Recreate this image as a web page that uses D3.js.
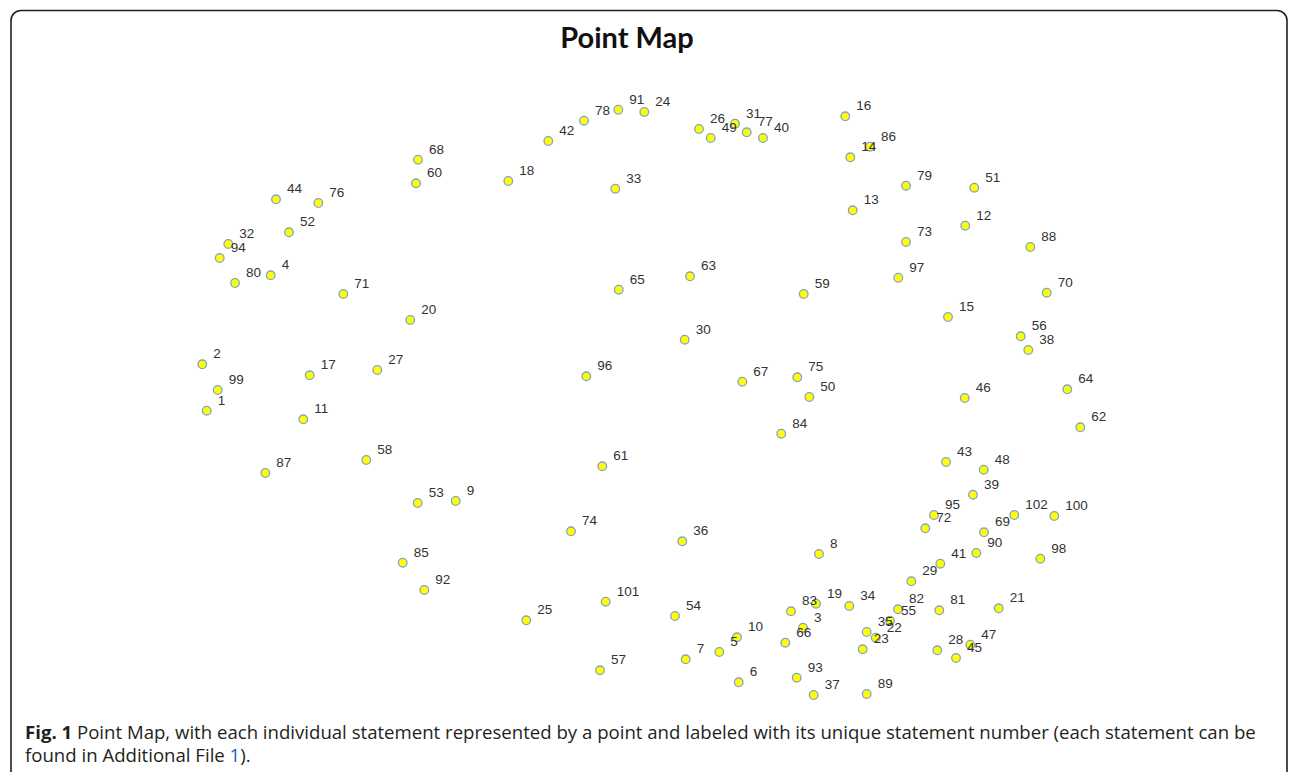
<!DOCTYPE html>
<html>
<head>
<meta charset="utf-8">
<script src="https://cdn.jsdelivr.net/npm/d3@7"></script>
<style>
  body { margin: 0; background: #fff; }
  svg { display: block; }
</style>
</head>
<body>
<div id="chart"></div>
<script>
// statement numbers, and their positions on the point map
const ids = [1, 2, 3, 4, 5, 6, 7, 8, 9, 10, 11, 12, 13, 14, 15, 16, 17, 18, 19, 20,
  21, 22, 23, 24, 25, 26, 27, 28, 29, 30, 31, 32, 33, 34, 35, 36, 37, 38, 39, 40,
  41, 42, 43, 44, 45, 46, 47, 48, 49, 50, 51, 52, 53, 54, 55, 56, 57, 58, 59, 60,
  61, 62, 63, 64, 65, 66, 67, 68, 69, 70, 71, 72, 73, 74, 75, 76, 77, 78, 79, 80,
  81, 82, 83, 84, 85, 86, 87, 88, 89, 90, 91, 92, 93, 94, 95, 96, 97, 98, 99, 100,
  101, 102];

const xs = [206.7, 202.3, 803, 270.7, 719.3, 738.7, 685.7, 819, 455.7, 737,
  303.3, 965.3, 852.7, 850.3, 948, 845.3, 309.7, 508.3, 816, 410.3,
  998.7, 875.7, 862.7, 644.3, 526.3, 699, 377.3, 937.3, 911.3, 684.7,
  735, 228.3, 615.3, 849.3, 866.7, 682.3, 813.7, 1028.3, 973, 763,
  940.3, 548.3, 946, 276, 956, 964.7, 970.3, 983.7, 710.7, 809.3,
  974.3, 289, 417.7, 675, 890, 1020.7, 600, 366.3, 803.7, 416,
  602.3, 1080.3, 690, 1067.3, 618.7, 785.3, 742.3, 418, 984, 1046.7,
  343.3, 925.3, 906, 571, 797.3, 318.3, 746.7, 584, 906, 235,
  939.3, 898, 791, 781.3, 402.7, 870, 265.3, 1030.3, 866.7, 976.3,
  618.3, 424.3, 796.7, 219.7, 934, 586.3, 898.3, 1040.3, 217.7, 1054.3,
  605.7, 1014.3];

const ys = [410.7, 364.3, 627.7, 275.3, 652, 682.3, 659.3, 554, 501, 637.3,
  419.3, 225.7, 210.3, 157.3, 317, 116.3, 375.3, 181, 603.7, 320,
  608.3, 637.7, 649.3, 112, 620.3, 129, 370, 650.3, 581.3, 339.7,
  123.7, 244, 188.7, 606, 632, 541.3, 695, 350, 494.7, 138,
  563.7, 141, 462, 199.3, 658, 398, 644.7, 469.7, 138, 397,
  187.7, 232.3, 503, 616, 620.7, 336.3, 670.3, 460, 294, 183.3,
  466.3, 427.3, 276.3, 389.3, 289.7, 642.7, 381.7, 159.7, 532.3, 292.7,
  294, 528.3, 242, 531.3, 377.3, 203, 132.3, 120.7, 185.7, 283,
  610.3, 609.3, 611.3, 433.7, 562.7, 146.7, 473, 247, 694, 553,
  109.7, 590, 677.7, 258, 515, 376.3, 277.7, 558.7, 390, 516,
  601.7, 515];

const title = "Point Map";
const captionBold = "Fig. 1";
const captionLine1 = " Point Map, with each individual statement represented by a point and labeled with its unique statement number (each statement can be";
const captionLine2a = "found in Additional File ";
const captionLine2b = "1";
const captionLine2c = ").";

const W = 1293, H = 772;

const svg = d3.select("#chart").append("svg")
  .attr("width", W)
  .attr("height", H);

// figure frame
svg.append("rect")
  .attr("x", 11).attr("y", 10.5)
  .attr("width", W - 17).attr("height", H + 2)
  .attr("rx", 10)
  .attr("fill", "none")
  .attr("stroke", "#231f20")
  .attr("stroke-width", 1.6);

const points = ids.map((id, i) => ({ id: id, x: xs[i], y: ys[i] }));

const xScale = d3.scaleLinear()
  .domain(d3.extent(xs))
  .range([202.3, 1080.3]);

const yScale = d3.scaleLinear()
  .domain(d3.extent(ys))
  .range([109.7, 695]);

svg.append("text")
  .attr("x", 627)
  .attr("y", 48)
  .attr("text-anchor", "middle")
  .style("font-family", "Lato, 'Open Sans', sans-serif")
  .style("font-weight", "bold")
  .style("font-size", "29px")
  .attr("fill", "#111")
  .text(title);

const plot = svg.append("g");

plot.selectAll("circle")
  .data(points)
  .enter().append("circle")
  .attr("cx", d => xScale(d.x))
  .attr("cy", d => yScale(d.y))
  .attr("r", 4.3)
  .attr("fill", "#ffff00")
  .attr("stroke", "#7ea3cf")
  .attr("stroke-width", 1.3);

plot.selectAll("text")
  .data(points)
  .enter().append("text")
  .attr("x", d => xScale(d.x) + 11)
  .attr("y", d => yScale(d.y) - 6)
  .style("font-family", "'Liberation Sans', Arial, sans-serif")
  .style("font-size", "13.5px")
  .attr("fill", "#333")
  .text(d => d.id);

// caption
const cap = svg.append("g")
  .style("font-family", "'Open Sans', sans-serif")
  .style("font-size", "18.6px")
  .attr("fill", "#231f20");

const l1 = cap.append("text").attr("x", 25).attr("y", 739);
l1.append("tspan").style("font-weight", "bold").text(captionBold);
l1.append("tspan").text(captionLine1);

const l2 = cap.append("text").attr("x", 25).attr("y", 762);
l2.append("tspan").text(captionLine2a);
l2.append("tspan").attr("fill", "#1a5fb4").text(captionLine2b);
l2.append("tspan").text(captionLine2c);
</script>
</body>
</html>
